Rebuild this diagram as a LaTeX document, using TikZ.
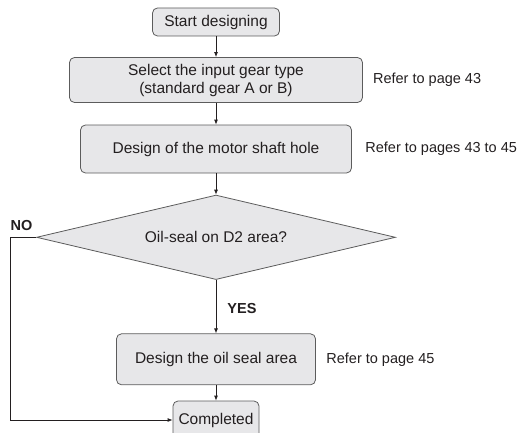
\documentclass[tikz,border=0pt]{standalone}
\usepackage{fontspec}
\setmainfont{Liberation Sans}
\usetikzlibrary{positioning}
\usetikzlibrary{shapes.geometric}
\usetikzlibrary{arrows.meta}

\definecolor{boxfill}{HTML}{E7E7E9}
\definecolor{boxline}{HTML}{5C5C5C}
\definecolor{ink}{HTML}{231F20}

\begin{document}
\begin{tikzpicture}[
        x = 1pt, y = -1pt, % one unit per pixel, y runs down
        > = {Latex[length=5pt, width=4pt]}, % arrow head style
        line width = 0.8pt,
        box/.style = {draw=boxline, fill=boxfill, rounded corners=5pt, text=ink,
                      align=center, font=\fontsize{15.5}{18}\selectfont},
        decision/.style = {diamond, draw=boxline, fill=boxfill, text=ink, aspect=4,
                      inner sep=0pt, font=\fontsize{15.5}{18}\selectfont},
        note/.style = {anchor=west, inner sep=0pt, text=ink, font=\fontsize{14.5}{17}\selectfont},
        answer/.style = {inner sep=0pt, text=ink, font=\fontsize{14.5}{17}\selectfont\bfseries}
        ]

  \useasboundingbox (0,0) rectangle (532,433);

  \node[box, minimum width=127pt, minimum height=28pt] (start) at (216,22) {Start designing};
  \node[box, minimum width=293pt, minimum height=45pt] (gear) at (216,80) {Select the input gear type\\(standard gear A or B)};
  \node[box, minimum width=271pt, minimum height=48pt] (shaft) at (216,149) {Design of the motor shaft hole};
  \node[decision, minimum width=359pt, minimum height=84.5pt] (oilq) at (216,237.3) {Oil-seal on D2 area?};
  \node[box, minimum width=199pt, minimum height=51pt] (seal) at (216,359.3) {Design the oil seal area};
  \node[box, minimum width=86pt, minimum height=38pt] (done) at (216,420) {Completed};

  \node[note] (ref1) at (372.7,80) {Refer to page 43};
  \node[note] (ref2) at (365,149) {Refer to pages 43 to 45};
  \node[note] (ref3) at (326,359.3) {Refer to page 45};

  \node[answer] (no) at (21.5,226) {NO};
  \node[answer] (yes) at (242,308.7) {YES};

  \coordinate (nocorner) at (10.7,237.3);

  \draw[->, ink] (start) -- (gear);
  \draw[->, ink] (gear) -- (shaft);
  \draw[->, ink] (shaft) -- (oilq);
  \draw[->, ink] (oilq) -- (seal);
  \draw[->, ink] (seal) -- (done);
  \draw[->, ink] (oilq.west) -- (nocorner) |- (done.west);

\end{tikzpicture}
\end{document}
